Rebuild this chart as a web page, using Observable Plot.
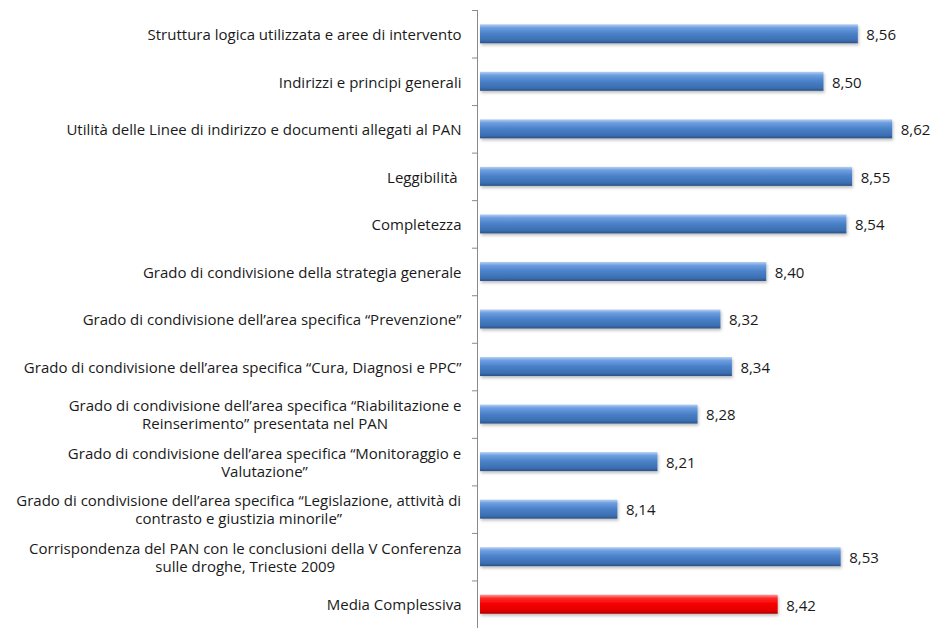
<!DOCTYPE html>
<html>
<head>
<meta charset="utf-8">
<script src="https://cdn.jsdelivr.net/npm/d3@7"></script>
<script src="https://cdn.jsdelivr.net/npm/@observablehq/plot@0.6"></script>
<style>
  html, body { margin: 0; padding: 0; background: #fff; }
  #chart svg { display: block; }
</style>
</head>
<body>
<div id="chart"></div>
<script>
const labels = [
  "Struttura logica utilizzata e aree di intervento",
  "Indirizzi e principi generali",
  "Utilità delle Linee di indirizzo e documenti allegati al PAN",
  "Leggibilità ",
  "Completezza",
  "Grado di condivisione della strategia generale",
  "Grado di condivisione dell’area specifica “Prevenzione”",
  "Grado di condivisione dell’area specifica “Cura, Diagnosi e PPC”",
  "Grado di condivisione dell’area specifica “Riabilitazione e\nReinserimento” presentata nel PAN",
  "Grado di condivisione dell’area specifica “Monitoraggio e\nValutazione”",
  "Grado di condivisione dell’area specifica “Legislazione, attività di\ncontrasto e giustizia minorile”",
  "Corrispondenza del PAN con le conclusioni della V Conferenza\nsulle droghe, Trieste 2009",
  "Media Complessiva"
];
const values = [8.56, 8.50, 8.62, 8.55, 8.54, 8.40, 8.32, 8.34, 8.28, 8.21, 8.14, 8.53, 8.42];
const isTotal = [false, false, false, false, false, false, false, false, false, false, false, false, true];
const baseline = 7.9;

const data = labels.map((label, i) => ({label, value: values[i], total: isTotal[i]}));
const fmt = v => v.toFixed(2).replace(".", ",");
const font = "'Open Sans', sans-serif";
const FS = 15;

const H = 628, MT = 10, MB = 0;
const step = (H - MT - MB) / labels.length;

const chart = Plot.plot({
  width: 933,
  height: H,
  marginTop: MT,
  marginBottom: MB,
  marginLeft: 477,
  marginRight: 0,
  style: {fontFamily: font, fontSize: FS + "px", color: "#1a1a1a", background: "#fff"},
  x: {domain: [7.9, 8.7], range: [480, 938], axis: null},
  y: {domain: labels, paddingInner: 0.6, paddingOuter: 0.3, round: false, axis: null},
  marks: [
    Plot.barX(data, {
      y: "label", x1: () => baseline, x2: "value",
      fill: d => d.total ? "url(#gradRed)" : "url(#gradBlue)"
    }),
    Plot.text(data, {
      y: "label", x: "value", text: d => fmt(d.value),
      textAnchor: "start", dx: 8, dy: 1, fill: "#1a1a1a", fontSize: FS
    }),
    Plot.ruleX([baseline], {stroke: "#8a8a8a", dx: -3, strokeWidth: 1}),
    Plot.axisY({
      anchor: "left", tickSize: 5, text: null, label: null,
      dy: -step / 2, stroke: "#8a8a8a"
    }),
    Plot.text(data, {
      y: "label", text: "label", frameAnchor: "left", textAnchor: "end",
      dx: -16, lineAnchor: "middle", lineHeight: 1.2, fill: "#1a1a1a", fontSize: FS
    })
  ]
});

document.getElementById("chart").appendChild(chart);

// drop the empty tick-label group of the tick-only axis
chart.querySelectorAll("g[aria-label='y-axis tick label']").forEach(g => g.remove());

const ns = "http://www.w3.org/2000/svg";
try {
  const defs = document.createElementNS(ns, "defs");
  function grad(id, stops) {
    const g = document.createElementNS(ns, "linearGradient");
    g.setAttribute("id", id);
    g.setAttribute("x1", "0"); g.setAttribute("y1", "0");
    g.setAttribute("x2", "0"); g.setAttribute("y2", "1");
    stops.forEach(([o, c]) => {
      const s = document.createElementNS(ns, "stop");
      s.setAttribute("offset", o); s.setAttribute("stop-color", c);
      g.appendChild(s);
    });
    defs.appendChild(g);
  }
  grad("gradBlue", [[0, "#b5d0f2"], [0.18, "#6d9ee0"], [0.5, "#4a80c8"], [0.85, "#3b6eb0"], [1, "#2a5185"]]);
  grad("gradRed", [[0, "#ff9a9a"], [0.18, "#ff2a2a"], [0.5, "#f40000"], [0.85, "#e00000"], [1, "#a80000"]]);
  const filt = document.createElementNS(ns, "filter");
  filt.setAttribute("id", "shadow");
  filt.setAttribute("x", "-5%"); filt.setAttribute("y", "-30%");
  filt.setAttribute("width", "110%"); filt.setAttribute("height", "190%");
  const fe = document.createElementNS(ns, "feDropShadow");
  fe.setAttribute("dx", "1"); fe.setAttribute("dy", "2");
  fe.setAttribute("stdDeviation", "1.5");
  fe.setAttribute("flood-color", "#000"); fe.setAttribute("flood-opacity", "0.25");
  filt.appendChild(fe);
  defs.appendChild(filt);
  chart.insertBefore(defs, chart.firstChild);
  chart.querySelectorAll("rect").forEach(r => {
    if ((r.getAttribute("fill") || "").startsWith("url(#grad")) r.setAttribute("filter", "url(#shadow)");
  });
} catch (e) { console.error(e); }

// center the lines of multi-line category labels, block aligned right
chart.querySelectorAll("text").forEach(t => {
  const tspans = t.querySelectorAll("tspan");
  if (tspans.length > 1) {
    const w = t.getBBox().width;
    t.setAttribute("text-anchor", "middle");
    tspans.forEach(s => s.setAttribute("text-anchor", "middle"));
    const prev = t.getAttribute("transform") || "";
    t.setAttribute("transform", prev + ` translate(${-w / 2},0)`);
  }
});
</script>
</body>
</html>
